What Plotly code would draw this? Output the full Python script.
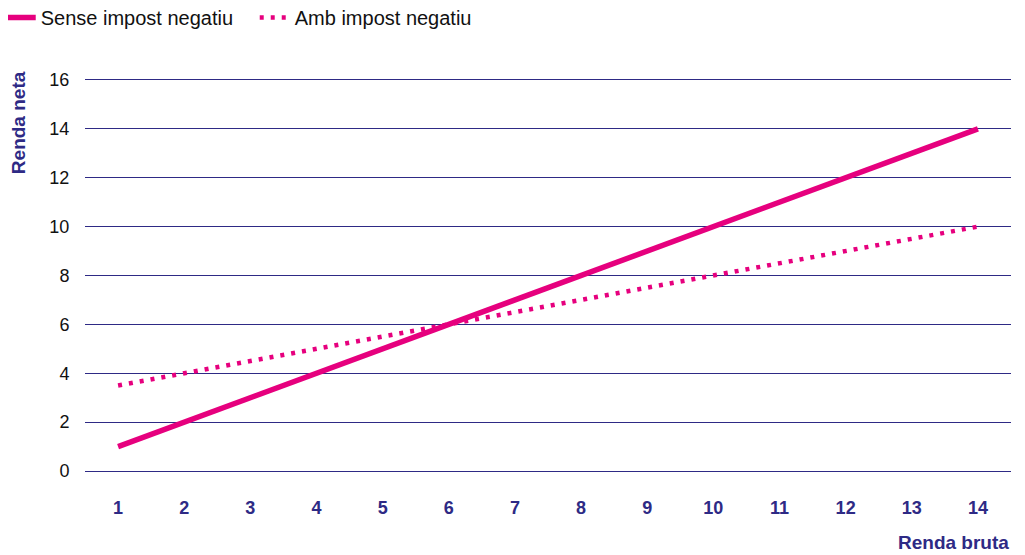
import plotly.graph_objects as go

x_vals = list(range(1, 15))
sense = [1, 2, 3, 4, 5, 6, 7, 8, 9, 10, 11, 12, 13, 14]
amb = [3.5, 4, 4.5, 5, 5.5, 6, 6.5, 7, 7.5, 8, 8.5, 9, 9.5, 10]
y_ticks = [0, 2, 4, 6, 8, 10, 12, 14, 16]

PINK = "#E6007E"
NAVY = "#2E2A85"
FONT = "Liberation Sans"

fig = go.Figure()
fig.add_trace(go.Scatter(x=x_vals, y=sense, mode="lines", name="Sense impost negatiu",
                         line=dict(color=PINK, width=5.5)))
fig.add_trace(go.Scatter(x=x_vals, y=amb, mode="lines", name="Amb impost negatiu",
                         line=dict(color=PINK, width=4.5, dash="4px,7px")))

fig.update_layout(
    width=1017, height=547,
    margin=dict(l=77, r=14, t=70, b=82, autoexpand=False),
    plot_bgcolor="white", paper_bgcolor="white",
    font=dict(family=FONT, size=18, color="#111111"),
    legend=dict(orientation="h", x=-0.091, xanchor="left", y=1.153, yanchor="middle",
                font=dict(size=20, color="#111111"), entrywidth=209, entrywidthmode="pixels",
                itemwidth=30, bgcolor="rgba(0,0,0,0)"),
    xaxis=dict(range=[0.5, 14.5], tickvals=x_vals, showgrid=False, zeroline=False,
               showline=False, ticks="outside", ticklen=18, tickcolor="rgba(0,0,0,0)",
               tickfont=dict(family=FONT, size=18, color=NAVY, weight="bold")),
    yaxis=dict(range=[-0.08, 16.08], tickvals=y_ticks, showgrid=True, gridcolor=NAVY,
               gridwidth=1, zeroline=False, showline=False, ticks="outside", ticklen=11,
               tickcolor="rgba(0,0,0,0)", tickfont=dict(family=FONT, size=18, color="#111111")),
    annotations=[
        dict(text="<b>Renda neta</b>", x=-0.072, xref="paper", xanchor="center",
             y=1.022, yref="paper", yanchor="top",
             textangle=-90, showarrow=False, font=dict(size=19, color=NAVY)),
        dict(text="<b>Renda bruta</b>", x=1.0, xref="paper", xanchor="right",
             y=-0.175, yref="paper", yanchor="middle", showarrow=False,
             font=dict(size=19, color=NAVY)),
    ],
)
fig.write_html("out.html")
